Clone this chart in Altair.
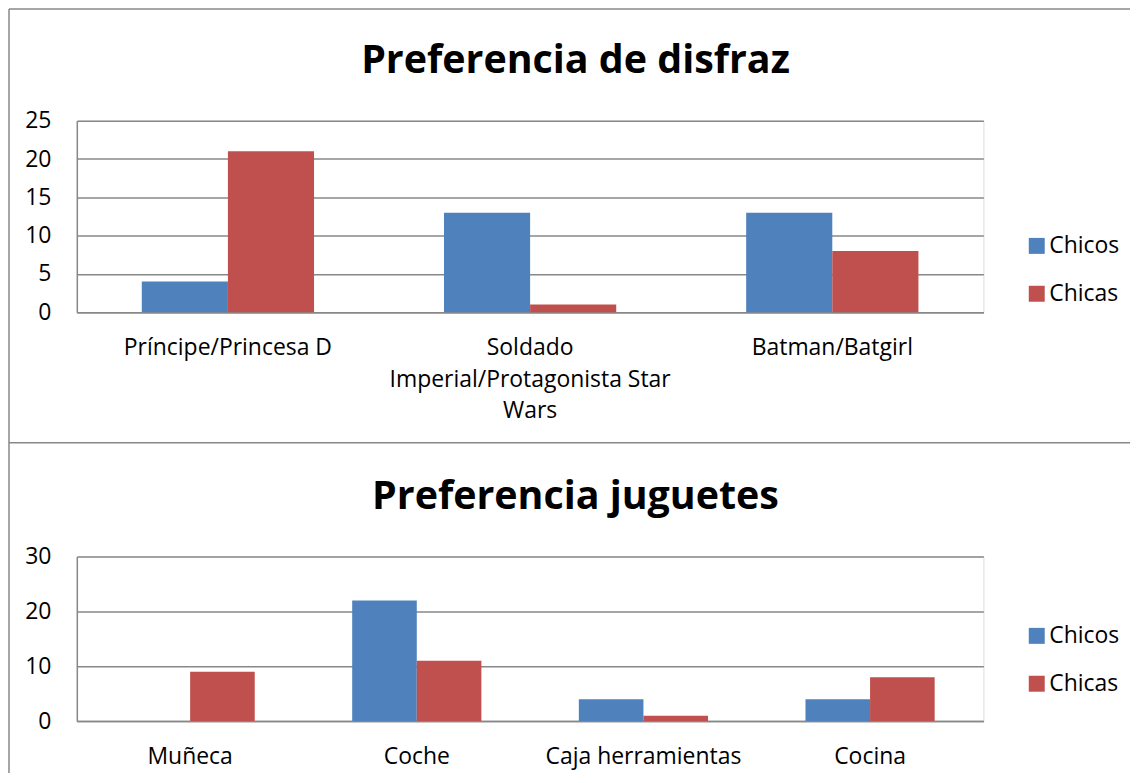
import altair as alt
import pandas as pd

# ---- data ----
series = ["Chicos", "Chicas"]
colors = ["#4F81BD", "#C0504D"]

titles = ["Preferencia de disfraz", "Preferencia juguetes"]

disfraz_cats = ["Príncipe/Princesa D", "Soldado Imperial/Protagonista Star Wars", "Batman/Batgirl"]
disfraz_chicos = [4, 13, 13]
disfraz_chicas = [21, 1, 8]

juguetes_cats = ["Muñeca", "Coche", "Caja herramientas", "Cocina"]
juguetes_chicos = [0, 22, 4, 4]
juguetes_chicas = [9, 11, 1, 8]

# how long category labels wrap, as in the reference
wrapped = {"Soldado Imperial/Protagonista Star Wars": ["Soldado", "Imperial/Protagonista Star", "Wars"]}

GRID = "#888888"
FONT = "Open Sans"
FS = 23


def long_df(cats, chicos, chicas):
    rows = []
    for c, a, b in zip(cats, chicos, chicas):
        rows.append({"cat": c, "serie": series[0], "valor": a})
        rows.append({"cat": c, "serie": series[1], "valor": b})
    return pd.DataFrame(rows)


def label_expr():
    expr = "datum.label"
    for k, lines in wrapped.items():
        arr = "[" + ", ".join("'" + s + "'" for s in lines) + "]"
        expr = f"datum.label == '{k}' ? {arr} : ({expr})"
    return expr


one = pd.DataFrame({"k": [0]})


def title_mark(text):
    return alt.Chart(one).mark_text(
        text=text, font=FONT, fontSize=39.5, fontWeight="bold", color="black",
        align="center", baseline="alphabetic",
    ).encode(x=alt.value(500), y=alt.value(-48))


def bar_chart(df, cats, ymax, ystep, h, legend_y):
    x = alt.X(
        "cat:N", sort=cats, title=None,
        scale=alt.Scale(paddingInner=0.43, paddingOuter=0.215),
        axis=alt.Axis(labelAngle=0, labelFontSize=FS, labelColor="black", labelFont=FONT,
                      ticks=False, labelPadding=24, labelLimit=0, domainColor=GRID,
                      domainWidth=1.5, grid=False, labelLineHeight=32, labelExpr=label_expr()),
    )
    y = alt.Y(
        "valor:Q", title=None,
        scale=alt.Scale(domain=[0, ymax], nice=False),
        axis=alt.Axis(values=list(range(0, ymax + 1, ystep)), labelFontSize=FS, labelColor="black",
                      labelFont=FONT, ticks=False, labelPadding=26, domainColor=GRID, domainWidth=1.5,
                      grid=True, gridColor=GRID, gridWidth=1.5, gridOpacity=1),
    )
    bars = alt.Chart(df).mark_bar().encode(
        x=x,
        xOffset=alt.XOffset("serie:N", sort=series, scale=alt.Scale(paddingInner=0, paddingOuter=0)),
        y=y,
        color=alt.Color(
            "serie:N", sort=series,
            scale=alt.Scale(domain=series, range=colors),
            legend=alt.Legend(orient="none", legendX=951, legendY=legend_y, title=None,
                              symbolType="square", symbolSize=256, symbolStrokeWidth=0,
                              labelFontSize=FS, labelFont=FONT, labelColor="black",
                              rowPadding=24, labelOffset=1),
        ),
    )
    return bars.properties(width=909, height=h)


def rule(x, x2, y, y2):
    return alt.Chart(one).mark_rule(color=GRID, strokeWidth=1.5).encode(
        x=alt.value(x), x2=alt.value(x2), y=alt.value(y), y2=alt.value(y2))

border = rule(-68, -68, -112, 654) + rule(-68, 1056, -112, -112) + rule(-68, 1056, 323, 323)

c1 = alt.layer(
    bar_chart(long_df(disfraz_cats, disfraz_chicos, disfraz_chicas), disfraz_cats, 25, 5, 192, 114),
    title_mark(titles[0]),
    border,
)
c2 = alt.layer(
    bar_chart(long_df(juguetes_cats, juguetes_chicos, juguetes_chicas), juguetes_cats, 30, 10, 165, 68),
    title_mark(titles[1]),
)

chart = (
    alt.vconcat(c1, c2, spacing=245, bounds="flush")
    .resolve_scale(color="independent", xOffset="independent")
    .properties(padding={"left": -1, "top": -2, "right": 0, "bottom": 0})
    .configure_view(stroke=None)
    .configure(font=FONT)
)

chart.save("out.html", embed_options={"renderer": "svg", "actions": False})
